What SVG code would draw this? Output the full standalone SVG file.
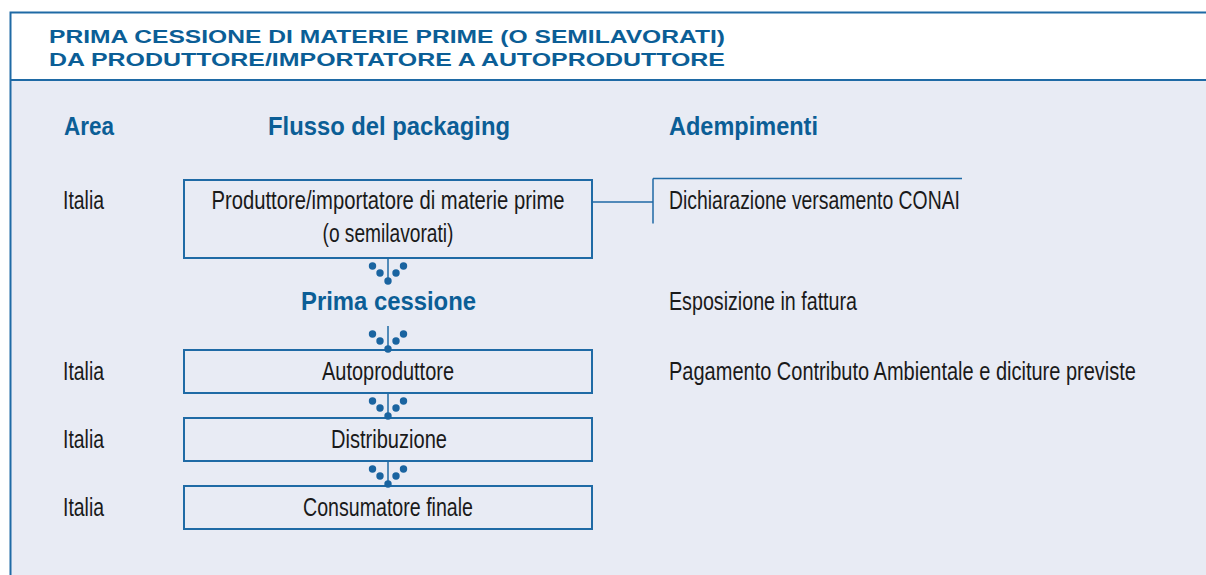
<svg xmlns="http://www.w3.org/2000/svg" width="1206" height="575" viewBox="0 0 1206 575">
<style>
.frame{fill:none;stroke:#1f6aa5;stroke-width:2}
.box{fill:none;stroke:#1f6aa5;stroke-width:2}
.ln{fill:none;stroke:#1f6aa5;stroke-width:1.5}
.dot{fill:#1a64a0}
.title{font-family:"Liberation Sans",Arial,sans-serif;font-weight:bold;font-size:18.5px;fill:#0b5e96}
.hd{font-family:"Liberation Sans Narrow","Liberation Sans",Arial,sans-serif;font-weight:bold;font-size:25px;fill:#0b5e96}
.tx{font-family:"Liberation Sans Narrow","Liberation Sans",Arial,sans-serif;font-size:25px;fill:#1a1a1a}
.c{text-anchor:middle}
</style>
<defs>
<g id="drop">
<line class="ln" x1="0" y1="0" x2="0" y2="22"/>
<circle class="dot" cx="-15.5" cy="8" r="3.7"/>
<circle class="dot" cx="-8" cy="15" r="3.7"/>
<circle class="dot" cx="0" cy="23" r="3.7"/>
<circle class="dot" cx="8" cy="15" r="3.7"/>
<circle class="dot" cx="15.5" cy="8" r="3.7"/>
</g>
</defs>
<rect x="0" y="0" width="1206" height="575" fill="#ffffff"/>
<rect x="10" y="80" width="1196" height="495" fill="#e8ebf4"/>
<g id="frame">
<path class="frame" d="M1206,12.5 H10.5 V575"/>
<line class="frame" x1="10.5" y1="80" x2="1206" y2="80"/>
</g>
<g id="title">
<text class="title" x="49" y="42.5" textLength="676" lengthAdjust="spacingAndGlyphs">PRIMA CESSIONE DI MATERIE PRIME (O SEMILAVORATI)</text>
<text class="title" x="49" y="66" textLength="676" lengthAdjust="spacingAndGlyphs">DA PRODUTTORE/IMPORTATORE A AUTOPRODUTTORE</text>
</g>
<g id="headers">
<text class="hd" x="64" y="135" textLength="50" lengthAdjust="spacingAndGlyphs">Area</text>
<text class="hd" x="268" y="135" textLength="242" lengthAdjust="spacingAndGlyphs">Flusso del packaging</text>
<text class="hd" x="669" y="135" textLength="149" lengthAdjust="spacingAndGlyphs">Adempimenti</text>
</g>
<g id="areas">
<text class="tx" x="63" y="209" textLength="41" lengthAdjust="spacingAndGlyphs">Italia</text>
<text class="tx" x="63" y="380" textLength="41" lengthAdjust="spacingAndGlyphs">Italia</text>
<text class="tx" x="63" y="448" textLength="41" lengthAdjust="spacingAndGlyphs">Italia</text>
<text class="tx" x="63" y="516" textLength="41" lengthAdjust="spacingAndGlyphs">Italia</text>
</g>
<g id="node-produttore">
<rect class="box" x="184" y="180" width="408" height="78"/>
<text class="tx c" x="388" y="209" textLength="353" lengthAdjust="spacingAndGlyphs">Produttore/importatore di materie prime</text>
<text class="tx c" x="388" y="242" textLength="131" lengthAdjust="spacingAndGlyphs">(o semilavorati)</text>
</g>
<g id="node-prima-cessione">
<text class="hd c" x="388.5" y="310" textLength="175" lengthAdjust="spacingAndGlyphs">Prima cessione</text>
</g>
<g id="node-autoproduttore">
<rect class="box" x="184" y="350" width="408" height="43"/>
<text class="tx c" x="388" y="380" textLength="132" lengthAdjust="spacingAndGlyphs">Autoproduttore</text>
</g>
<g id="node-distribuzione">
<rect class="box" x="184" y="418" width="408" height="43"/>
<text class="tx c" x="389" y="448" textLength="116" lengthAdjust="spacingAndGlyphs">Distribuzione</text>
</g>
<g id="node-consumatore">
<rect class="box" x="184" y="486" width="408" height="43"/>
<text class="tx c" x="388" y="516" textLength="170" lengthAdjust="spacingAndGlyphs">Consumatore finale</text>
</g>
<g id="adempimenti">
<text class="tx" x="669" y="209" textLength="291" lengthAdjust="spacingAndGlyphs">Dichiarazione versamento CONAI</text>
<text class="tx" x="669" y="310" textLength="188" lengthAdjust="spacingAndGlyphs">Esposizione in fattura</text>
<text class="tx" x="669" y="380" textLength="467" lengthAdjust="spacingAndGlyphs">Pagamento Contributo Ambientale e diciture previste</text>
</g>
<g id="connectors">
<path class="ln" d="M592,202 H653 M653,178.5 V223.5 M653,178.5 H962"/>
<use href="#drop" x="388" y="258"/>
<use href="#drop" x="388" y="326"/>
<use href="#drop" x="388" y="393"/>
<use href="#drop" x="388" y="461"/>
</g>
</svg>
